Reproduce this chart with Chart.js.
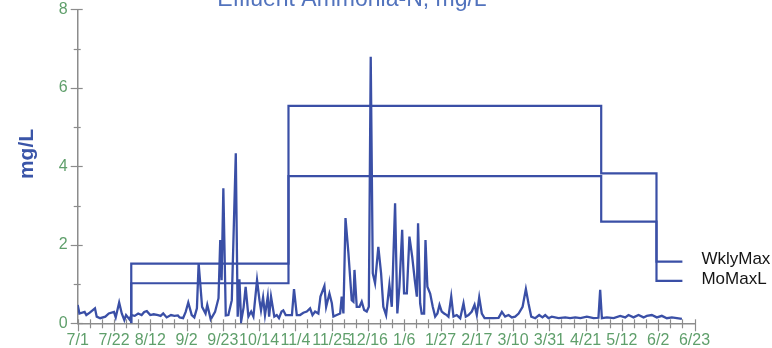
<!DOCTYPE html>
<html>
<head>
<meta charset="utf-8">
<title>Effluent Ammonia-N</title>
<script src="https://cdn.jsdelivr.net/npm/chart.js@4/dist/chart.umd.min.js"></script>
<style>
  html, body { margin: 0; padding: 0; background: #ffffff; }
  #wrap { width: 772px; height: 348px; }
</style>
</head>
<body>
<div id="wrap"><canvas id="c" width="772" height="348"></canvas></div>
<script>
// Days counted from 7/1; daily effluent ammonia-N readings (mg/L)
const sampleDays = [
  0, 1, 4, 5, 7, 10, 11, 13, 16, 18, 21, 22, 24, 25.5, 27, 28, 30, 31, 33, 35,
  37, 38.5, 40, 42, 44, 46.5, 48, 49.5, 51.5, 54, 56, 58, 59, 61, 62.5, 64, 66, 67.5, 69, 70,
  72, 74, 75, 77, 79.5, 81.5, 82.5, 83.3, 84.3, 85.7, 87.2, 89.2, 91.5, 92.6, 93.6, 94.6, 96, 97.2, 98.8, 100.4,
  101.7, 103.8, 105.2, 106.1, 107.3, 108.4, 110, 110.8, 111.9, 113.8, 115.2, 116.5, 118, 119, 120.4, 122, 124, 125.2, 126.8, 128.7,
  130.6, 132.6, 134.5, 135.9, 137.4, 139.3, 140.5, 142.8, 143.8, 145.7, 147.1, 148, 149.9, 151.9, 152.8, 153.8, 155, 156.7, 158.6, 159.6,
  160.2, 161.5, 163.1, 164.4, 165.8, 167.3, 168.5, 169.6, 170.8, 172.1, 174, 175.6, 176.9, 178.5, 180.4, 181.8, 183.7, 185, 186.2, 187.8,
  188.9, 190.5, 192, 193.6, 195.1, 196.3, 197, 198.2, 199.1, 200.5, 201.3, 202.4, 204, 205.5, 206.9, 208.2, 209.4, 210.7, 212.1, 213.6,
  214.6, 216.2, 217.5, 219.4, 221.4, 223.3, 224.6, 226.2, 228.1, 229.7, 231, 232.4, 233.9, 235.5, 237.8, 240.7, 243.6, 245.5, 247.4, 249.4,
  251.3, 253.2, 255.2, 257.5, 259.4, 260.9, 262.5, 264.8, 267.1, 269, 270.6, 272.5, 274.4, 278.3, 282.2, 285, 288, 291, 294.7, 298.6,
  301.4, 302.4, 303.4, 306.3, 310.2, 314, 316.9, 318.8, 321.7, 324.6, 327.5, 329.4, 332.3, 335.2, 338.1, 341, 343.9, 346.8, 349.7
];
const ammoniaN = [
  0.47, 0.25, 0.29, 0.21, 0.27, 0.38, 0.17, 0.13, 0.17, 0.25, 0.29, 0.15, 0.53, 0.25, 0.08, 0.21, 0.10, 0.21, 0.19, 0.25,
  0.21, 0.29, 0.31, 0.21, 0.23, 0.21, 0.19, 0.25, 0.15, 0.21, 0.19, 0.20, 0.15, 0.13, 0.29, 0.53, 0.21, 0.15, 0.38, 1.53,
  0.42, 0.25, 0.47, 0.10, 0.29, 0.64, 2.12, 1.10, 3.44, 0.20, 0.21, 0.59, 4.33, 0.17, 1.12, 0.05, 0.40, 0.93, 0.17, 0.30,
  0.17, 1.10, 0.59, 0.33, 0.66, 0.21, 0.68, 0.17, 0.68, 0.17, 0.21, 0.13, 0.30, 0.33, 0.21, 0.21, 0.21, 0.87, 0.21, 0.21,
  0.27, 0.30, 0.38, 0.21, 0.30, 0.25, 0.68, 0.95, 0.42, 0.76, 0.51, 0.17, 0.21, 0.25, 0.68, 0.25, 2.68, 1.78, 0.59, 0.55,
  1.36, 0.42, 0.42, 0.55, 0.34, 0.30, 0.42, 6.79, 1.27, 1.02, 1.95, 1.27, 0.42, 0.21, 0.98, 0.42, 3.06, 0.25, 0.93, 2.38,
  0.76, 0.76, 2.21, 1.70, 1.10, 0.68, 2.55, 0.51, 0.25, 0.25, 2.12, 0.93, 0.76, 0.42, 0.17, 0.25, 0.47, 0.30, 0.25, 0.21,
  0.17, 0.68, 0.17, 0.21, 0.13, 0.51, 0.17, 0.21, 0.30, 0.47, 0.21, 0.66, 0.25, 0.13, 0.13, 0.13, 0.14, 0.29, 0.17, 0.21,
  0.15, 0.17, 0.25, 0.42, 0.87, 0.51, 0.17, 0.13, 0.21, 0.15, 0.21, 0.13, 0.17, 0.13, 0.15, 0.13, 0.15, 0.13, 0.17, 0.13,
  0.14, 0.85, 0.13, 0.15, 0.13, 0.19, 0.15, 0.21, 0.15, 0.21, 0.15, 0.19, 0.21, 0.15, 0.19, 0.13, 0.15, 0.13, 0.11
];

// Permit limit steps (start day of each period, value that applies from there)
const limitDays = [31, 31, 122, 303, 335, 350];
const wklyMax   = [0, 1.52, 5.54, 3.82, 1.57, 1.57];
const moMaxL    = [0, 1.02, 3.75, 2.59, 1.08, 1.08];

const dateLabels = ['7/1','7/22','8/12','9/2','9/23','10/14','11/4','11/25','12/16',
                    '1/6','1/27','2/17','3/10','3/31','4/21','5/12','6/2','6/23'];
const yLabels = ['0', '2', '4', '6', '8'];

const LINE = '#3a4fa6';
const GREEN = '#5f9f6b';
const AXIS = '#8c8c8c';
const FONT = '"Liberation Sans", Arial, sans-serif';

const toXY = (xs, ys) => xs.map((d, i) => ({ x: d, y: ys[i] }));

// Tick marks that straddle the axis lines
const crossTicks = {
  id: 'crossTicks',
  afterDraw(chart) {
    const { ctx, scales: { x, y } } = chart;
    ctx.save();
    ctx.strokeStyle = AXIS;
    ctx.lineWidth = 1.2;
    const y0 = y.getPixelForValue(0);
    const x0 = x.getPixelForValue(0);
    x.ticks.forEach(t => {
      const px = Math.round(x.getPixelForValue(t.value)) + 0.5;
      const major = t.value % 21 === 0;
      ctx.beginPath();
      ctx.moveTo(px, y0 - 4);
      ctx.lineTo(px, y0 + (major ? 8 : 5));
      ctx.stroke();
    });
    y.ticks.forEach(t => {
      const py = Math.round(y.getPixelForValue(t.value)) + 0.5;
      const major = t.value % 2 === 0;
      ctx.beginPath();
      ctx.moveTo(x0 - (major ? 7 : 4), py);
      ctx.lineTo(x0 + (major ? 5 : 3), py);
      ctx.stroke();
    });
    ctx.restore();
  }
};

// Title, axis caption and end-of-line series names
const annotations = {
  id: 'annotations',
  afterDraw(chart) {
    const { ctx } = chart;
    ctx.save();
    ctx.fillStyle = '#5273bd';
    ctx.font = '23px ' + FONT;
    ctx.textAlign = 'center';
    ctx.textBaseline = 'alphabetic';
    ctx.fillText('Effluent Ammonia-N, mg/L', 352, 5.5);

    ctx.save();
    ctx.translate(27, 154);
    ctx.rotate(-Math.PI / 2);
    ctx.fillStyle = '#3a55a8';
    ctx.font = 'bold 21px ' + FONT;
    ctx.textBaseline = 'middle';
    ctx.fillText('mg/L', 0, 0);
    ctx.restore();

    ctx.fillStyle = '#151515';
    ctx.font = '17px ' + FONT;
    ctx.textAlign = 'left';
    ctx.textBaseline = 'middle';
    chart.data.datasets.forEach((ds, i) => {
      if (!ds.stepped) return;
      const pts = chart.getDatasetMeta(i).data;
      const last = pts[pts.length - 1];
      ctx.fillText(ds.label, last.x + 19, last.y - 2);
    });
    ctx.restore();
  }
};

new Chart(document.getElementById('c'), {
  type: 'line',
  data: {
    datasets: [
      {
        label: 'Ammonia-N',
        data: toXY(sampleDays, ammoniaN),
        borderColor: LINE,
        borderWidth: 2.3,
        pointRadius: 0,
        tension: 0
      },
      {
        label: 'WklyMax',
        data: toXY(limitDays, wklyMax),
        borderColor: LINE,
        borderWidth: 2.2,
        pointRadius: 0,
        stepped: true
      },
      {
        label: 'MoMaxL',
        data: toXY(limitDays, moMaxL),
        borderColor: LINE,
        borderWidth: 2.2,
        pointRadius: 0,
        stepped: true
      }
    ]
  },
  options: {
    responsive: false,
    animation: false,
    devicePixelRatio: 1,
    layout: { autoPadding: false, padding: { left: 0, right: 77.5, top: 9.3, bottom: 0 } },
    plugins: { legend: { display: false }, tooltip: { enabled: false }, title: { display: false } },
    scales: {
      x: {
        type: 'linear',
        min: 0,
        max: 357,
        afterFit: s => { s.height = 24.7; s.paddingLeft = 0; s.paddingRight = 0; },
        grid: { display: false, drawTicks: false },
        border: { display: true, color: AXIS, width: 1.5 },
        ticks: {
          stepSize: 7,
          autoSkip: false,
          maxRotation: 0,
          minRotation: 0,
          padding: 9,
          color: GREEN,
          font: { family: FONT, size: 16, lineHeight: 1 },
          callback: v => (v % 21 === 0 ? dateLabels[v / 21] : '')
        }
      },
      y: {
        min: 0,
        max: 8,
        afterFit: s => { s.width = 77.7; s.paddingTop = 0; s.paddingBottom = 0; },
        grid: { display: false, drawTicks: false },
        border: { display: true, color: AXIS, width: 1.5 },
        ticks: {
          stepSize: 1,
          autoSkip: false,
          padding: 10,
          color: GREEN,
          font: { family: FONT, size: 16, lineHeight: 1 },
          callback: v => (v % 2 === 0 ? yLabels[v / 2] : '')
        }
      }
    }
  },
  plugins: [crossTicks, annotations]
});
</script>
</body>
</html>
